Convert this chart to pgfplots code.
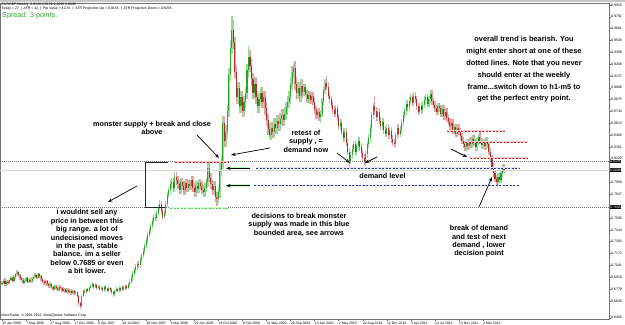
\documentclass[border=0pt]{standalone}
\usepackage{fontspec}
\setmainfont{Liberation Sans}
\usepackage{pgfplots}
\pgfplotsset{compat=1.18}
\usepackage{pgfplotstable}
\usetikzlibrary{arrows.meta}
\definecolor{upbody}{HTML}{23A823}
\definecolor{upwick}{HTML}{9BD89B}
\definecolor{dnbody}{HTML}{B02C2C}
\definecolor{dnwick}{HTML}{E3A2A2}
\definecolor{lvred}{HTML}{B03030}
\definecolor{lvblue}{HTML}{1F3A8C}
\definecolor{lvgreen}{HTML}{5FC05F}
\definecolor{spreadgreen}{HTML}{3E9E3E}
\pgfplotstableread{
i o h l c
0 6840 6870 6820 6850
1 6850 6890 6830 6870
2 6870 6895 6810 6830
3 6830 6880 6815 6860
4 6860 6880 6825 6845
5 6845 6900 6830 6880
6 6880 6925 6865 6900
7 6900 6920 6850 6870
8 6870 6930 6855 6910
9 6910 6960 6890 6940
10 6940 6990 6925 6965
11 6965 6980 6915 6935
12 6935 6950 6880 6900
13 6900 6915 6860 6880
14 6880 6895 6830 6850
15 6850 6890 6835 6870
16 6870 6915 6855 6895
17 6895 6910 6840 6860
18 6860 6900 6845 6880
19 6880 6895 6845 6865
20 6865 6910 6850 6890
21 6890 6930 6875 6910
22 6910 6955 6895 6935
23 6935 6950 6885 6905
24 6905 6960 6890 6940
25 6940 6955 6900 6920
26 6920 6935 6865 6885
27 6885 6900 6840 6860
28 6860 6875 6820 6840
29 6840 6885 6825 6865
30 6865 6880 6810 6830
31 6830 6845 6790 6810
32 6810 6855 6795 6835
33 6835 6850 6780 6800
34 6800 6815 6760 6780
35 6780 6830 6765 6810
36 6810 6825 6770 6790
37 6790 6805 6750 6770
38 6770 6825 6755 6805
39 6805 6820 6770 6790
40 6790 6805 6740 6760
41 6760 6800 6745 6780
42 6780 6795 6730 6750
43 6750 6790 6735 6770
44 6770 6785 6725 6745
45 6745 6780 6730 6760
46 6760 6775 6715 6735
47 6735 6775 6720 6755
48 6755 6770 6710 6730
49 6730 6765 6715 6745
50 6745 6760 6680 6700
51 6700 6715 6595 6620
52 6620 6640 6560 6590
53 6590 6720 6575 6700
54 6700 6780 6690 6760
55 6760 6775 6720 6740
56 6740 6795 6725 6775
57 6775 6790 6740 6760
58 6760 6810 6745 6790
59 6790 6830 6775 6810
60 6810 6855 6795 6835
61 6835 6850 6780 6800
62 6800 6840 6785 6820
63 6820 6835 6770 6790
64 6790 6825 6775 6805
65 6805 6820 6760 6780
66 6780 6810 6765 6790
67 6790 6805 6745 6765
68 6765 6820 6750 6800
69 6800 6815 6760 6780
70 6780 6795 6740 6760
71 6760 6810 6745 6790
72 6790 6805 6750 6770
73 6770 6785 6720 6740
74 6740 6755 6690 6720
75 6720 6775 6705 6755
76 6755 6800 6740 6780
77 6780 6795 6740 6760
78 6760 6810 6745 6790
79 6790 6805 6750 6770
80 6770 6820 6755 6800
81 6800 6815 6760 6780
82 6780 6830 6765 6810
83 6810 6825 6770 6790
84 6790 6850 6775 6830
85 6830 6890 6800 6860
86 6860 6930 6830 6900
87 6900 6980 6870 6950
88 6950 7020 6920 6990
89 6990 7050 6960 7020
90 7020 7090 6990 7060
91 7060 7090 7010 7040
92 7040 7130 7010 7100
93 7100 7180 7070 7150
94 7150 7230 7120 7200
95 7200 7290 7170 7260
96 7260 7350 7230 7320
97 7320 7410 7290 7380
98 7380 7450 7350 7420
99 7420 7510 7390 7480
100 7480 7560 7450 7530
101 7530 7610 7500 7580
102 7580 7610 7530 7560
103 7560 7650 7530 7620
104 7620 7710 7590 7680
105 7680 7760 7650 7720
106 7720 7750 7610 7640
107 7640 7670 7540 7580
108 7580 7650 7550 7620
109 7620 7750 7590 7720
110 7720 7850 7690 7820
111 7820 7910 7790 7880
112 7880 7990 7830 7940
113 7940 8010 7890 7960
114 7960 8010 7850 7900
115 7900 8070 7850 8020
116 8020 8070 7930 7980
117 7980 8030 7890 7940
118 7940 7990 7830 7880
119 7880 8010 7830 7960
120 7960 8010 7870 7920
121 7920 7970 7820 7870
122 7870 8000 7820 7950
123 7950 8000 7850 7900
124 7900 7990 7850 7940
125 7940 7990 7870 7920
126 7920 8030 7870 7980
127 7980 8030 7850 7900
128 7900 7950 7800 7850
129 7850 7970 7800 7920
130 7920 7970 7840 7890
131 7890 8000 7840 7950
132 7950 8000 7870 7920
133 7920 7970 7830 7880
134 7880 7930 7800 7850
135 7850 7950 7800 7900
136 7900 8010 7850 7960
137 7960 8180 7910 8120
138 8120 8170 7960 8010
139 8010 8060 7890 7940
140 7940 7990 7820 7870
141 7870 7970 7820 7920
142 7920 7970 7740 7800
143 7800 7850 7700 7780
144 7780 7910 7730 7860
145 7860 8170 7790 8100
146 8100 8250 8030 8180
147 8180 8690 8110 8620
148 8620 8690 8350 8420
149 8420 8590 8350 8520
150 8520 8820 8450 8750
151 8750 9220 8680 9150
152 9150 9520 9080 9450
153 9450 9800 9380 9650
154 9650 9760 9430 9500
155 9500 9570 9110 9180
156 9180 9250 8830 8900
157 8900 9070 8830 9000
158 9000 9070 8730 8800
159 8800 8970 8730 8900
160 8900 8970 8680 8750
161 8750 8920 8680 8850
162 8850 9020 8780 8950
163 8950 9270 8880 9200
164 9200 9470 9130 9350
165 9350 9420 9180 9250
166 9250 9320 9030 9100
167 9100 9170 8880 8950
168 8950 9120 8880 9050
169 9050 9120 8830 8900
170 8900 8970 8730 8800
171 8800 8950 8730 8880
172 8880 9020 8810 8950
173 8950 9020 8780 8850
174 8850 8970 8780 8900
175 8900 8970 8710 8780
176 8780 8850 8580 8650
177 8650 8720 8480 8550
178 8550 8620 8440 8480
179 8480 8630 8430 8560
180 8560 8630 8450 8520
181 8520 8670 8450 8600
182 8600 8670 8490 8560
183 8560 8710 8490 8640
184 8640 8710 8530 8600
185 8600 8730 8530 8660
186 8660 8770 8590 8700
187 8700 8770 8580 8650
188 8650 8790 8580 8720
189 8720 8850 8650 8780
190 8780 8920 8710 8850
191 8850 8970 8780 8900
192 8900 9120 8830 9050
193 9050 9250 8980 9180
194 9180 9280 9110 9230
195 9230 9300 8980 9050
196 9050 9120 8880 8950
197 8950 9070 8880 9000
198 9000 9070 8850 8920
199 8920 9100 8850 9030
200 9030 9100 8890 8960
201 8960 9050 8920 9010
202 9010 9050 8900 8940
203 8940 8980 8840 8880
204 8880 8970 8840 8930
205 8930 8970 8830 8870
206 8870 8960 8830 8920
207 8920 8960 8810 8850
208 8850 8890 8720 8760
209 8760 8800 8660 8700
210 8700 8780 8660 8740
211 8740 8780 8640 8680
212 8680 8760 8620 8720
213 8720 8890 8680 8850
214 8850 9020 8810 8980
215 8980 9100 8940 9060
216 9060 9140 8980 9020
217 9020 9060 8880 8920
218 8920 8960 8840 8880
219 8880 8920 8780 8820
220 8820 8860 8720 8760
221 8760 8800 8680 8720
222 8720 8820 8680 8780
223 8780 8820 8640 8680
224 8680 8720 8540 8580
225 8580 8660 8540 8620
226 8620 8660 8480 8520
227 8520 8560 8410 8450
228 8450 8560 8410 8520
229 8520 8560 8360 8400
230 8400 8440 8260 8300
231 8300 8340 8110 8200
232 8200 8300 8160 8260
233 8260 8370 8220 8330
234 8330 8420 8290 8380
235 8380 8420 8260 8300
236 8300 8400 8260 8360
237 8360 8460 8320 8420
238 8420 8460 8310 8350
239 8350 8390 8240 8280
240 8280 8320 8190 8230
241 8230 8270 8140 8180
242 8180 8310 8140 8270
243 8270 8420 8230 8380
244 8380 8490 8340 8450
245 8450 8600 8410 8560
246 8560 8740 8520 8700
247 8700 8840 8660 8800
248 8800 8920 8710 8750
249 8750 8790 8640 8680
250 8680 8780 8640 8740
251 8740 8780 8600 8640
252 8640 8680 8540 8580
253 8580 8670 8540 8630
254 8630 8670 8500 8540
255 8540 8580 8460 8500
256 8500 8600 8460 8560
257 8560 8600 8440 8480
258 8480 8570 8440 8530
259 8530 8570 8400 8440
260 8440 8480 8360 8400
261 8400 8440 8350 8380
262 8380 8520 8340 8480
263 8480 8600 8440 8560
264 8560 8600 8460 8500
265 8500 8580 8460 8540
266 8540 8660 8500 8620
267 8620 8740 8580 8700
268 8700 8790 8660 8750
269 8750 8870 8710 8830
270 8830 8870 8750 8790
271 8790 8900 8750 8860
272 8860 8950 8820 8900
273 8900 8940 8800 8840
274 8840 8960 8800 8920
275 8920 8960 8840 8880
276 8880 8920 8760 8800
277 8800 8840 8700 8740
278 8740 8840 8700 8800
279 8800 8840 8720 8760
280 8760 8860 8720 8820
281 8820 8910 8780 8870
282 8870 8940 8830 8900
283 8900 8940 8790 8830
284 8830 8920 8790 8880
285 8880 8980 8840 8940
286 8940 8980 8820 8860
287 8860 8900 8780 8820
288 8820 8860 8740 8780
289 8780 8820 8700 8740
290 8740 8840 8700 8800
291 8800 8840 8740 8780
292 8780 8820 8680 8720
293 8720 8810 8680 8770
294 8770 8810 8650 8690
295 8690 8780 8650 8740
296 8740 8780 8630 8670
297 8670 8710 8590 8630
298 8630 8670 8540 8580
299 8580 8660 8540 8620
300 8620 8660 8500 8540
301 8540 8610 8500 8570
302 8570 8610 8460 8500
303 8500 8600 8460 8560
304 8560 8600 8480 8520
305 8520 8560 8430 8470
306 8470 8510 8380 8420
307 8420 8460 8340 8380
308 8380 8420 8310 8350
309 8350 8440 8310 8400
310 8400 8440 8320 8360
311 8360 8460 8320 8420
312 8420 8460 8340 8380
313 8380 8480 8340 8440
314 8440 8480 8360 8400
315 8400 8440 8310 8350
316 8350 8450 8310 8410
317 8410 8500 8370 8460
318 8460 8520 8380 8420
319 8420 8460 8330 8370
320 8370 8440 8330 8400
321 8400 8440 8320 8360
322 8360 8460 8320 8420
323 8420 8460 8340 8380
324 8380 8420 8260 8300
325 8300 8340 8180 8220
326 8220 8260 8090 8130
327 8130 8170 8020 8060
328 8060 8100 7960 8000
329 8000 8040 7920 7960
330 7960 8060 7930 8020
331 8020 8060 7950 7990
332 7990 8100 7950 8060
333 8060 8160 8020 8120
334 8120 8160 8060 8096
}\candles

\begin{document}
\begin{tikzpicture}
\useasboundingbox (0,0) rectangle (625bp,325bp);
\fill[white] (0,0) rectangle (625bp,325bp);
\fill[black!22] (0,322.5bp) rectangle (625bp,325bp);
\begin{axis}[
  scale only axis, width=609bp, height=316.5bp,
  at={(0bp,5.5bp)}, anchor=south west,
  xmin=-1.331, xmax=403.86, ymin=6441, ymax=9944.7,
  axis line style={draw=black!55, line width=0.5bp},
  xtick={0,16,...,320},
  xticklabels={15 Jan 2006,7 May 2006,27 Aug 2006,17 Dec 2006,8 Apr 2007,29 Jul 2007,18 Nov 2007,9 Mar 2008,29 Jun 2008,19 Oct 2008,8 Feb 2009,31 May 2009,20 Sep 2009,10 Jan 2010,2 May 2010,22 Aug 2010,12 Dec 2010,3 Apr 2011,24 Jul 2011,13 Nov 2011,4 Mar 2012},
  ytick={6460,6648,6779,6910,7041,7172,7303,7434,7565,7827,7958,8220,8351,8482,8613,8744,8875,9006,9137,9268,9399,9530,9661,9792,9923},
  yticklabels={0.6460,0.6648,0.6779,0.6910,0.7041,0.7172,0.7303,0.7434,0.7565,0.7827,0.7958,0.8220,0.8351,0.8482,0.8613,0.8744,0.8875,0.9006,0.9137,0.9268,0.9399,0.9530,0.9661,0.9792,0.9923},
  xtick pos=bottom, ytick pos=right, yticklabel pos=right,
  tick align=outside, major tick length=2bp,
  tick style={draw=black!60, line width=0.4bp},
  xticklabel style={font=\fontsize{3.4bp}{4bp}\selectfont, anchor=north west, inner sep=0.6bp, xshift=-0.5bp},
  yticklabel style={font=\fontsize{3.5bp}{4bp}\selectfont, anchor=west, inner sep=0.5bp, xshift=-0.5bp},
  clip=false,
  candle/.style={draw=none, mark=none, no markers, forget plot},
]
% wicks
\addplot[candle,
  x filter/.expression={\thisrow{c}>=\thisrow{o} ? x : nan},
  error bars/.cd, y dir=plus, y explicit, error mark=none,
  error bar style={draw=upwick, line width=1.3bp}]
  table[x=i, y=l, y error plus expr=\thisrow{h}-\thisrow{l}] {\candles};
\addplot[candle,
  x filter/.expression={\thisrow{c}<\thisrow{o} ? x : nan},
  error bars/.cd, y dir=plus, y explicit, error mark=none,
  error bar style={draw=dnwick, line width=1.3bp}]
  table[x=i, y=l, y error plus expr=\thisrow{h}-\thisrow{l}] {\candles};
% bodies
\addplot[candle,
  x filter/.expression={\thisrow{c}>=\thisrow{o} ? x : nan},
  error bars/.cd, y dir=plus, y explicit, error mark=none,
  error bar style={draw=upbody, line width=1.05bp}]
  table[x=i, y=o, y error plus expr=\thisrow{c}-\thisrow{o}] {\candles};
\addplot[candle,
  x filter/.expression={\thisrow{c}<\thisrow{o} ? x : nan},
  error bars/.cd, y dir=plus, y explicit, error mark=none,
  error bar style={draw=dnbody, line width=1.05bp}]
  table[x=i, y=c, y error plus expr=\thisrow{o}-\thisrow{c}] {\candles};
\end{axis}

\begin{scope}[x=1bp,y=-1bp,shift={(0,325bp)}]
% full-width level lines
\draw[black!55, line width=0.45bp, dash pattern=on 1bp off 1bp] (0,161.7) -- (609,161.7);
\draw[black!55, line width=0.45bp, dash pattern=on 1bp off 1bp] (0,207) -- (609,207);
\draw[black!15, line width=0.5bp] (0,170) -- (609,170);
% price highlights
\node[fill=black, text=white, inner sep=0.5bp, anchor=west, font=\fontsize{3.5bp}{4bp}\selectfont] at (609.5,161.7) {0.8188};
\node[fill=black, text=white, inner sep=0.5bp, anchor=west, font=\fontsize{3.5bp}{4bp}\selectfont] at (609.5,170) {0.8096};
\node[fill=black, text=white, inner sep=0.5bp, anchor=west, font=\fontsize{3.5bp}{4bp}\selectfont] at (609.5,207) {0.7685};
% range bracket
\draw[black!85, line width=0.8bp] (168,162) -- (145.5,162) -- (145.5,207) -- (165,207);
% range top / bottom
\draw[red!25, line width=1.8bp] (175,162) -- (228,162);
\draw[lvred, line width=0.8bp, dash pattern=on 2bp off 1.5bp] (175,162) -- (228,162);
\draw[green!20, line width=1.8bp] (170,208) -- (228,208);
\draw[lvgreen, line width=0.8bp, dash pattern=on 2bp off 1.5bp] (170,208) -- (228,208);
% blue levels
\draw[blue!10, line width=1.6bp] (256,168.3) -- (520,168.3);
\draw[lvblue, line width=0.8bp, dash pattern=on 2bp off 1.5bp] (256,168.3) -- (520,168.3);
\draw[blue!10, line width=1.6bp] (254,185.7) -- (520,185.7);
\draw[lvblue, line width=0.8bp, dash pattern=on 2bp off 1.5bp] (254,185.7) -- (520,185.7);
% red levels on the right
\foreach \ya/\xa/\xb in {131/447/505, 142/465/527, 158/470/528}{
  \draw[red!18, line width=1.8bp] (\xa,\ya) -- (\xb,\ya);
  \draw[lvred, line width=0.8bp, dash pattern=on 2bp off 1.5bp] (\xa,\ya) -- (\xb,\ya);
}
% arrows
\begin{scope}[line width=0.7bp, -{Stealth[length=4.5bp,width=3.2bp]}]
\draw[green!25, line width=2.4bp, -] (228,168.3) -- (250,168.3);
\draw[green!25, line width=2.4bp, -] (228,185.7) -- (250,185.7);
\draw (250,168.3) -- (226,168.3);
\draw (250,185.7) -- (226,185.7);
\draw (197,135) -- (219,158);
\draw (270,148) -- (231,155);
\draw (137,186) -- (108,202);
\draw (337,153) -- (350,163);
\draw (377,157) -- (365,163);
\draw (451,149) -- (467,157);
\draw (479,207) -- (492,177);
\end{scope}
% header
\node[anchor=west, inner sep=0, font=\fontsize{3.5bp}{4bp}\selectfont] at (1.5,4.3) {EURGBP,Weekly\ \ 0.8148 0.8152 0.8092 0.8096};
\node[anchor=west, inner sep=0, font=\fontsize{3.5bp}{4bp}\selectfont] at (1.5,8.2) {Today = 27\ \ |\ \ ATR = 42\ \ |\ \ Pip Value = 12.35\ \ |\ \ ATR Projection Up = 0.8155\ \ |\ \ ATR Projection Down = 0.8058};
\node[anchor=west, inner sep=0, text=spreadgreen, font=\fontsize{7.2bp}{8bp}\selectfont] at (2,16) {Spread: 3 points.};
\node[anchor=west, inner sep=0, font=\fontsize{3.5bp}{4bp}\selectfont] at (1.5,315.3) {MetaTrader, \textcopyright\ 2001-2012, MetaQuotes Software Corp.};
% annotations
\begin{scope}[every node/.style={align=center, inner sep=0, font=\fontsize{7.3bp}{8.4bp}\selectfont\bfseries}]
\node at (152,128) {monster supply + break and close\\above};
\node at (306,141) {retest of\\supply , =\\demand now};
\node at (382.5,176) {demand level};
\node at (299,224.8) {decisions to break monster\\supply was made in this blue\\bounded area, see arrows};
\node at (479,241.5) {break of demand\\and test of next\\demand , lower\\decision point};
\node at (87,241.6) {i wouldnt sell any\\price in between this\\big range. a lot of\\undecisioned moves\\in the past, stable\\balance. im a seller\\below 0.7685 or even\\a bit lower.};
\node[font=\fontsize{7.4bp}{11.8bp}\selectfont\bfseries] at (524,69.5) {overall trend is bearish. You\\might enter short at one of these\\dotted lines. Note that you never\\should enter at the weekly\\frame...switch down to h1-m5 to\\get the perfect entry point.};
\end{scope}
\end{scope}
\end{tikzpicture}
\end{document}
